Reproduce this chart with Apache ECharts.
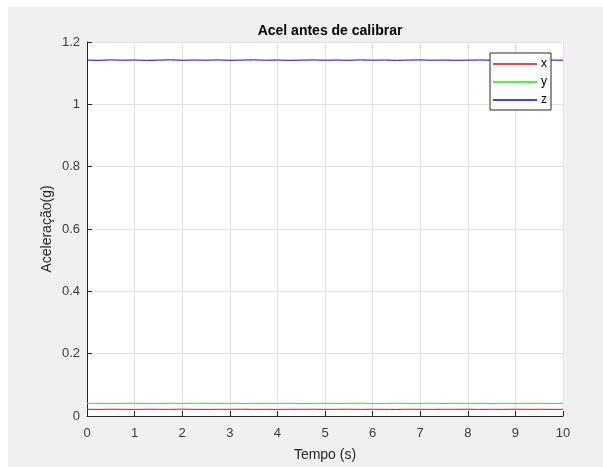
<!DOCTYPE html>
<html>
<head>
<meta charset="utf-8">
<script src="https://cdn.jsdelivr.net/npm/echarts@6/dist/echarts.min.js"></script>
<style>
  html, body { margin: 0; padding: 0; background: #ffffff; }
  #chart { width: 603px; height: 467px; }
</style>
</head>
<body>
<div id="chart"></div>
<script>
// Sample times (s)
const tempo = [0, 0.25, 0.5, 0.75, 1, 1.25, 1.5, 1.75, 2, 2.25, 2.5, 2.75, 3, 3.25, 3.5, 3.75, 4, 4.25, 4.5, 4.75,
  5, 5.25, 5.5, 5.75, 6, 6.25, 6.5, 6.75, 7, 7.25, 7.5, 7.75, 8, 8.25, 8.5, 8.75, 9, 9.25, 9.5, 9.75, 10];

// Accelerometer readings (g) per axis
const accX = [0.0215, 0.0212, 0.0218, 0.0214, 0.0211, 0.0217, 0.0215, 0.0213, 0.0219, 0.0214, 0.0212, 0.0216, 0.0214,
  0.0218, 0.0213, 0.0215, 0.0211, 0.0216, 0.0214, 0.0217, 0.0213, 0.0215, 0.0218, 0.0212, 0.0216, 0.0214, 0.0211,
  0.0217, 0.0215, 0.0213, 0.0216, 0.0214, 0.0218, 0.0212, 0.0215, 0.0213, 0.0217, 0.0214, 0.0216, 0.0212, 0.0215];
const accY = [0.0405, 0.0408, 0.0402, 0.0406, 0.0409, 0.0403, 0.0405, 0.0410, 0.0404, 0.0407, 0.0411, 0.0405, 0.0408,
  0.0403, 0.0406, 0.0409, 0.0404, 0.0407, 0.0402, 0.0405, 0.0408, 0.0404, 0.0406, 0.0409, 0.0403, 0.0405, 0.0408,
  0.0404, 0.0406, 0.0410, 0.0403, 0.0407, 0.0405, 0.0408, 0.0402, 0.0406, 0.0404, 0.0407, 0.0405, 0.0403, 0.0406];
const accZ = [1.1420, 1.1412, 1.1425, 1.1416, 1.1422, 1.1410, 1.1418, 1.1427, 1.1414, 1.1421, 1.1416, 1.1424, 1.1413,
  1.1419, 1.1426, 1.1415, 1.1421, 1.1411, 1.1418, 1.1423, 1.1416, 1.1420, 1.1413, 1.1425, 1.1417, 1.1421, 1.1412,
  1.1419, 1.1424, 1.1415, 1.1420, 1.1413, 1.1418, 1.1422, 1.1416, 1.1411, 1.1419, 1.1423, 1.1414, 1.1420, 1.1417];

const seriesNames = ['x', 'y', 'z'];
const seriesColors = ['#ff0000', '#00ff00', '#0000ff'];
const seriesValues = [accX, accY, accZ];

const xTicks = { min: 0, max: 10, interval: 1 };
const yTicks = { min: 0, max: 1.2, interval: 0.2 };

const font = 'Liberation Sans, Arial, Helvetica, sans-serif';
const ink = '#262626';
const tickInk = '#3a3a3a';

const chart = echarts.init(document.getElementById('chart'), null, { renderer: 'canvas' });

chart.setOption({
  backgroundColor: '#ffffff',
  animation: false,
  graphic: [{
    type: 'rect',
    z: -10,
    shape: { x: 8, y: 7, width: 603, height: 467 },
    style: { fill: '#f0f0f0' },
    silent: true
  }],
  title: {
    text: 'Acel antes de calibrar',
    left: 325,
    textAlign: 'center',
    top: 19,
    textStyle: { fontFamily: font, fontSize: 14, fontWeight: 'bold', color: '#000000' }
  },
  grid: {
    left: 87, right: 40, top: 42, bottom: 49,
    show: true, backgroundColor: '#ffffff', borderWidth: 0
  },
  legend: {
    orient: 'vertical',
    left: 490,
    top: 53,
    width: 60,
    backgroundColor: '#ffffff',
    borderColor: '#262626',
    borderWidth: 1,
    borderRadius: 0,
    padding: [5, 4, 4, 3],
    itemGap: 6,
    itemWidth: 44,
    itemHeight: 1.5,
    icon: 'rect',
    data: seriesNames,
    textStyle: { fontFamily: font, fontSize: 12, color: '#000000', padding: [0, 0, 0, -1] }
  },
  xAxis: {
    type: 'value',
    min: xTicks.min, max: xTicks.max, interval: xTicks.interval,
    name: 'Tempo (s)',
    nameLocation: 'middle',
    nameGap: 32,
    nameMoveOverlap: false,
    nameTextStyle: { fontFamily: font, fontSize: 14, color: ink },
    axisLine: { show: true, onZero: false, lineStyle: { color: ink, width: 1 } },
    axisTick: { show: true, inside: true, length: 5, lineStyle: { color: ink } },
    axisLabel: { fontFamily: font, fontSize: 13, color: tickInk, margin: 11 },
    splitLine: { show: true, lineStyle: { color: '#e3e3e3', width: 1 } }
  },
  yAxis: {
    type: 'value',
    min: yTicks.min, max: yTicks.max, interval: yTicks.interval,
    name: 'Aceleração(g)',
    nameLocation: 'middle',
    nameGap: 33,
    nameMoveOverlap: false,
    nameTextStyle: { fontFamily: font, fontSize: 14, color: ink },
    axisLine: { show: true, onZero: false, lineStyle: { color: ink, width: 1 } },
    axisTick: { show: true, inside: true, length: 5, lineStyle: { color: ink } },
    axisLabel: { fontFamily: font, fontSize: 13, color: tickInk, margin: 7 },
    splitLine: { show: true, lineStyle: { color: '#e3e3e3', width: 1 } }
  },
  series: seriesNames.map((name, i) => ({
    name: name,
    type: 'line',
    data: tempo.map((t, k) => [t, seriesValues[i][k]]),
    showSymbol: false,
    symbol: 'none',
    lineStyle: { color: seriesColors[i], width: 1 },
    itemStyle: { color: seriesColors[i] },
    z: 3
  }))
});
</script>
</body>
</html>
